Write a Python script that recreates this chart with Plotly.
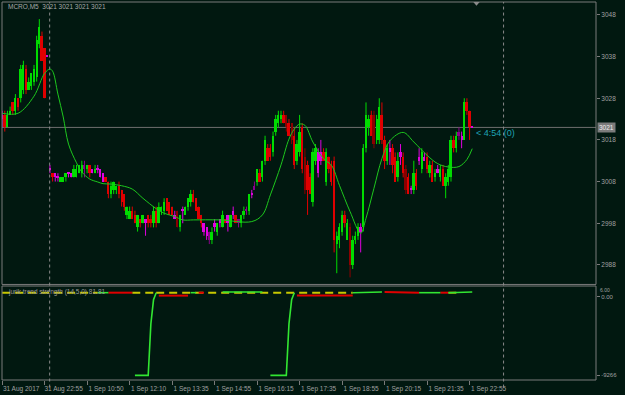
import plotly.graph_objects as go

# ---------------- data ----------------
bar_idx = list(range(178))

opens = [3024,3024,3021,3024,3027,3025,3028,3028,3030,3035,
         3030,3031,3032,3033,3041,3043,3040,3038,3011,3010,
         3010,3009,3008,3008,3009,3010,3010,3009,3009,3010,
         3010,3012,3011,3012,3011,3010,3011,3011,3010,3009,
         3008,3005,3006,3006,3007,3006,3005,3000,2999,3001,
         3000,2997,2999,2998,2999,3000,2999,2998,3001,2998,
         3001,3001,3004,3003,3002,3000,3001,2997,3001,3000,
         3002,3003,3005,3004,3002,3000,2998,2997,2996,2994,
         2998,2996,2999,2997,2999,3000,2997,3001,3000,2999,
         2998,3000,3001,3001,3005,3006,3008,3010,3009,3013,
         3016,3016,3015,3020,3022,3023,3024,3024,3022,3022,
         3019,3013,3015,3021,3014,3012,3009,3003,3013,3015,
         3013,3015,3008,3014,3012,3013,2993,2994,2996,3000,
         2994,2997,2988,2994,2995,2997,2997,3016,3021,3024,
         3024,3018,3018,3024,3018,3013,3016,3016,3014,3009,
         3014,3014,3011,3009,3006,3006,3010,3013,3011,3014,
         3014,3010,3012,3009,3011,3009,3011,3007,3008,3009,
         3018,3016,3019,3019,3018,3027,3025,3021]
highs = [3025,3025,3025,3026,3027,3029,3028,3036,3037,3036,
         3033,3034,3036,3043,3047,3044,3040,3038,3012,3010,
         3010,3010,3009,3009,3010,3010,3010,3012,3012,3012,
         3013,3013,3012,3012,3011,3012,3012,3011,3010,3009,
         3008,3008,3008,3007,3008,3006,3005,3002,3002,3002,
         3001,3000,2999,3000,2999,3000,3000,3002,3002,3003,
         3002,3004,3004,3003,3002,3001,3001,3000,3002,3002,
         3004,3006,3006,3004,3002,3000,2998,2997,2996,2997,
         2999,2998,2999,3001,2999,3000,3000,3002,3000,2999,
         3000,3002,3002,3005,3006,3008,3011,3011,3013,3019,
         3017,3017,3020,3024,3025,3025,3025,3024,3023,3022,
         3021,3018,3024,3022,3016,3013,3010,3016,3017,3016,
         3018,3016,3016,3014,3013,3014,2996,2998,3001,3001,
         2999,2998,2995,2996,2998,2998,3017,3027,3024,3025,
         3025,3024,3028,3027,3019,3017,3018,3017,3015,3015,
         3017,3015,3012,3010,3007,3013,3011,3016,3016,3015,
         3015,3013,3013,3011,3012,3012,3012,3010,3012,3019,
         3019,3020,3021,3020,3028,3028,3025,3021]
lows = [3021,3020,3021,3024,3024,3024,3025,3027,3029,3029,
        3030,3030,3031,3032,3040,3037,3028,3038,3010,3008,
        3008,3008,3008,3008,3008,3009,3009,3009,3009,3010,
        3009,3009,3010,3009,3010,3010,3010,3009,3008,3008,
        3004,3004,3005,3005,3004,3002,3001,2999,2999,2999,
        2998,2996,2997,2998,2995,2997,2997,2997,2997,2998,
        3000,3000,3001,3000,3000,2999,2997,2996,2998,3000,
        3001,3002,3003,3001,2999,2997,2995,2994,2993,2993,
        2996,2995,2997,2997,2998,2996,2997,2999,2998,2997,
        2997,2999,3000,3000,3004,3006,3007,3008,3008,3012,
        3013,3013,3014,3019,3021,3022,3022,3020,3019,3017,
        3011,3012,3014,3010,3005,3000,3005,3002,3012,3009,
        3012,3013,3007,3010,3007,2991,2986,2992,2995,2997,
        2994,2985,2987,2993,2994,2991,2996,3015,3019,3019,
        3016,3017,3017,3017,3011,3012,3012,3010,3008,3008,
        3012,3009,3005,3005,3005,3005,3006,3012,3010,3013,
        3010,3009,3008,3008,3010,3008,3007,3004,3007,3008,
        3015,3015,3018,3016,3018,3024,3018,3021]
closes = [3023,3021,3024,3025,3025,3028,3026,3035,3036,3030,
          3032,3034,3035,3042,3045,3037,3028,3038,3011,3009,
          3009,3009,3009,3009,3010,3010,3009,3011,3011,3012,
          3012,3011,3012,3010,3010,3011,3011,3009,3008,3008,
          3005,3007,3008,3007,3005,3003,3002,3002,3001,2999,
          2998,3000,2998,3000,2998,2998,2998,3001,2998,3002,
          3002,3003,3001,3000,3000,2999,2997,3000,3001,3002,
          3004,3005,3003,3001,2999,2998,2996,2995,2994,2996,
          2997,2998,2998,3000,2998,2998,3000,3000,2998,2998,
          3000,3001,3001,3005,3005,3007,3011,3008,3013,3018,
          3013,3014,3019,3023,3024,3024,3022,3021,3019,3018,
          3012,3017,3020,3011,3006,3006,3005,3015,3016,3010,
          3015,3013,3015,3011,3008,2994,2995,2997,3000,2998,
          2998,2988,2994,2995,2997,2996,3016,3024,3023,3019,
          3017,3023,3026,3018,3013,3016,3015,3012,3008,3013,
          3015,3010,3006,3005,3006,3010,3007,3014,3015,3013,
          3011,3012,3008,3010,3010,3011,3007,3009,3011,3018,
          3016,3019,3020,3018,3027,3025,3021,3021]
bar_colors = ("MRGGRGRGGRGGGGGRRM" "MRMMGGGMMGGGGmGRMGMMMR" "RGGGRRRGGRRGRGMRRGRG"
              "GGRRRMrGMGGGRRRRMMmG" "MGMGRMGMRmGGmGMmGRGG" "RRGGGGRrRrRGGRrRRGGM"
              "MRGRRRGGGRGrGGGMGGGR" "rGGRRGMRRGMRrRMGRMGM" "RGRGMGRGGGRGmMGRRM")

ma_idx = [0, 6, 12, 16, 18, 19, 21, 23, 25, 28, 30, 33, 36, 38, 41, 45, 49, 53, 58, 61,
          65, 68, 72, 82, 94, 98, 101, 105, 108, 110, 112, 114, 117, 121, 124, 127, 131,
          135, 137, 140, 143, 146, 151, 155, 160, 164, 168, 172, 175, 177]
ma_val = [3024.4, 3024.4, 3028.5, 3034.0, 3035.0, 3034.5, 3029.0, 3023.5, 3017.0, 3012.5,
          3010.3, 3008.6, 3007.9, 3007.5, 3007.4, 3007.0, 3006.2, 3004.0, 3001.5, 3000.4,
          2999.6, 2998.8, 2998.8, 2998.8, 2998.4, 3000.0, 3004.8, 3012.0, 3018.2, 3020.6,
          3021.8, 3021.5, 3017.5, 3013.5, 3011.9, 3007.1, 3000.8, 2995.6, 2999.2, 3006.4,
          3013.5, 3017.8, 3019.8, 3017.5, 3014.3, 3012.3, 3011.5, 3011.6, 3013.3, 3015.9]

# Jurik trend strength buffers (None = empty value)
jts_sig_x = [0, 36, None, 49, 58, None, 58, 132, None, 168, 172]
jts_sig_y = [0, 0, None, 0, 0, None, 0, 0, None, 0, 0]
jts_up_x = [36, 40, None, 50, 55, 56, 57, 58, None, 71, 73, None, 83, 98, None,
            101, 107, 108, 109, 110, None, 132, 137, 137, 143, None, 157, 165, None,
            168, 172, 172, 177]
jts_up_y = [0, 0, None, -9266, -9266, -3500, -800, 0, None, 0, 0, None, 80, 80, None,
            -9266, -9266, -3500, -800, 0, None, 0, 0, 80, 80, None, 0, 0, None,
            0, 0, 80, 80]
jts_dn_x = [40, 49, None, 74, 76, None, 144, 149, 149, 157, None, 165, 168]
jts_dn_y = [0, 0, None, 0, 0, None, 80, 80, 0, 0, None, 0, 0]
jts_lo_x = [59, 70, None, 111, 132]
jts_lo_y = [-330, -330, None, -330, -330]

time_ticks = [0, 16, 32, 48, 64, 80, 96, 112, 128, 144, 160, 176]
time_labels = ["31 Aug 2017", "31 Aug 22:55", "1 Sep 10:50", "1 Sep 12:10", "1 Sep 13:35",
               "1 Sep 14:55", "1 Sep 16:15", "1 Sep 17:35", "1 Sep 18:55", "1 Sep 20:15",
               "1 Sep 21:35", "1 Sep 22:55"]
price_ticks = [2988, 2998, 3008, 3018, 3028, 3038, 3048]
last_price = 3021

# ---------------- styling ----------------
BG = "#011810"
GRID = "#7a7a7a"
TXT = "#a0a0a0"
cmap = {"G": "#00dc00", "g": "#1e9b1e", "R": "#e00000", "r": "#8c0000",
        "M": "#e000e0", "m": "#8a008a"}
FONT = "Liberation Sans"

fig = go.Figure()

# wicks per colour group
for code, col in cmap.items():
    wx, wy = [], []
    for i in bar_idx:
        if i < len(bar_colors) and bar_colors[i] == code:
            wx += [i, i, None]
            wy += [lows[i], highs[i], None]
    if wx:
        fig.add_trace(go.Scatter(x=wx, y=wy, mode="lines", line=dict(color=col, width=1),
                                 hoverinfo="skip", showlegend=False, xaxis="x", yaxis="y"))

# bodies
base = [min(o, c) for o, c in zip(opens, closes)]
height = [max(abs(c - o), 0.3) for o, c in zip(opens, closes)]
bcols = [cmap[bar_colors[i]] if i < len(bar_colors) else cmap["G"] for i in bar_idx]
fig.add_trace(go.Bar(x=bar_idx, y=height, base=base, width=0.75,
                     marker=dict(color=bcols, line=dict(width=0)),
                     showlegend=False, xaxis="x", yaxis="y"))

# moving average
fig.add_trace(go.Scatter(x=ma_idx, y=ma_val, mode="lines", line=dict(color="#1ec81e", width=1, shape="spline"),
                         showlegend=False, xaxis="x", yaxis="y"))

# indicator
fig.add_trace(go.Scatter(x=jts_sig_x, y=jts_sig_y, mode="lines",
                         line=dict(color="#c8c800", width=2, dash="8px,5px"),
                         showlegend=False, xaxis="x2", yaxis="y2"))
fig.add_trace(go.Scatter(x=jts_lo_x, y=jts_lo_y, mode="lines", line=dict(color="#e00000", width=2),
                         showlegend=False, xaxis="x2", yaxis="y2"))
fig.add_trace(go.Scatter(x=jts_dn_x, y=jts_dn_y, mode="lines", line=dict(color="#e00000", width=2),
                         showlegend=False, xaxis="x2", yaxis="y2"))
fig.add_trace(go.Scatter(x=jts_up_x, y=jts_up_y, mode="lines", line=dict(color="#32e632", width=1.6),
                         showlegend=False, xaxis="x2", yaxis="y2"))

XR = [-0.05, 223.6]
MAIN_DOM = [0.2528, 1]
IND_DOM = [0, 0.2486]

fig.update_layout(
    width=625, height=395,
    margin=dict(l=2, r=29, t=2, b=12),
    paper_bgcolor=BG, plot_bgcolor=BG,
    bargap=0, showlegend=False,
    font=dict(family=FONT, size=7, color=TXT),
    xaxis=dict(domain=[0, 1], range=XR, anchor="y", showticklabels=False, ticks="",
               showgrid=False, zeroline=False, showline=False),
    xaxis2=dict(domain=[0, 1], range=XR, anchor="y2", showgrid=False, zeroline=False,
                tickmode="array", tickvals=time_ticks, ticktext=time_labels,
                ticks="outside", ticklen=4, tickcolor=GRID, tickwidth=1,
                tickfont=dict(family=FONT, size=6.5, color=TXT),
                ticklabelshift=19, ticklabelstandoff=-2, showline=False),
    yaxis=dict(domain=MAIN_DOM, range=[2983.31, 3051.1], side="right", anchor="x",
               showgrid=False, zeroline=False, tickmode="array", tickvals=price_ticks,
               ticks="outside", ticklen=3, tickcolor=GRID,
               tickfont=dict(family=FONT, size=6.5, color=TXT)),
    yaxis2=dict(domain=IND_DOM, range=[-9789, 745], side="right", anchor="x2",
                showgrid=False, zeroline=False, tickmode="array", tickvals=[-480, -9266],
                ticktext=["0.00", "-9266"], ticks="outside", ticklen=3, tickcolor=GRID,
                tickfont=dict(family=FONT, size=6, color=TXT)),
)

shapes = [
    dict(type="rect", xref="paper", yref="paper", x0=0, x1=1, y0=MAIN_DOM[0], y1=1,
         line=dict(color=GRID, width=1), layer="above"),
    dict(type="rect", xref="paper", yref="paper", x0=0, x1=1, y0=0, y1=IND_DOM[1],
         line=dict(color=GRID, width=1), layer="above"),
    dict(type="line", xref="paper", yref="y", x0=0, x1=1, y0=last_price, y1=last_price,
         line=dict(color="#6e6e6e", width=1), layer="below"),
    dict(type="line", xref="x", yref="paper", x0=17.9, x1=17.9, y0=-0.02, y1=1,
         line=dict(color="#8a8a8a", width=1, dash="3px,3px")),
    dict(type="line", xref="x", yref="paper", x0=188.8, x1=188.8, y0=-0.02, y1=1,
         line=dict(color="#8a8a8a", width=1, dash="3px,3px")),
    dict(type="path", xref="x", yref="paper", path="M 177.4,1 L 179.8,1 L 178.6,0.99 Z",
         fillcolor="#8a8a8a", line=dict(width=0)),
]
fig.update_layout(shapes=shapes)

annotations = [
    dict(xref="paper", yref="paper", x=0.006, y=0.987, xanchor="left", yanchor="middle",
         text="MCRO,M5  3021 3021 3021 3021", showarrow=False,
         font=dict(family=FONT, size=6.5, color="#a8a8a8")),
    dict(xref="paper", yref="paper", x=0.006, y=0.2336, xanchor="left", yanchor="middle",
         text="jurik trend strength (14,5,0) 81.81", showarrow=False,
         font=dict(family=FONT, size=6.5, color="#9a9a9a")),
    dict(xref="paper", yref="y", x=1.002, y=last_price, xanchor="left", yanchor="middle",
         text="3021", showarrow=False, bgcolor="#7c7c7c", borderpad=1,
         font=dict(family=FONT, size=6.5, color="#eeeeee")),
    dict(xref="x", yref="y", x=177.6, y=3019.6, xanchor="left", yanchor="middle",
         text="< 4:54 (0)", showarrow=False, font=dict(family=FONT, size=9, color="#1fa3b5")),
    dict(xref="paper", yref="paper", x=1.004, y=0.2486, xanchor="left", yanchor="top",
         text="6.00", showarrow=False, yshift=1, font=dict(family=FONT, size=5, color=TXT)),
]
fig.update_layout(annotations=annotations)

fig.write_html("out.html")
